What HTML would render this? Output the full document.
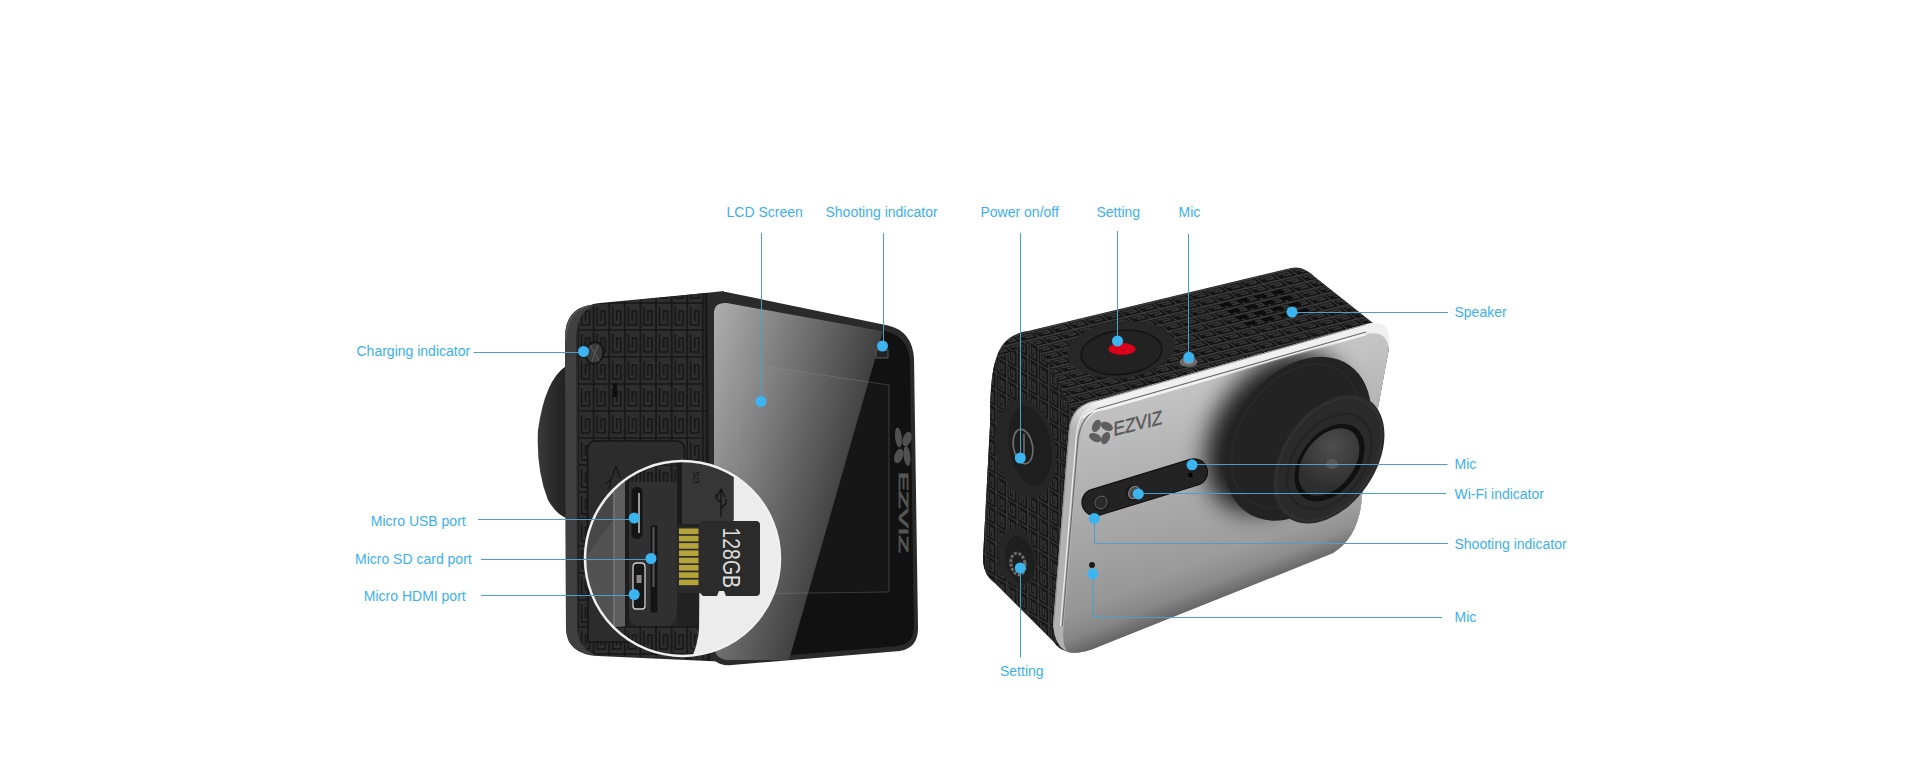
<!DOCTYPE html>
<html><head><meta charset="utf-8">
<style>
html,body{margin:0;padding:0;background:#fff;width:1920px;height:768px;overflow:hidden}
svg{display:block}
text{font-family:"Liberation Sans",sans-serif;font-size:14px;fill:#3cb0ee}
</style></head><body>
<svg width="1920" height="768" viewBox="0 0 1920 768">
<defs>
 <linearGradient id="glassL" x1="714" y1="303" x2="887.5" y2="350.9" gradientUnits="userSpaceOnUse">
  <stop offset="0" stop-color="#afafaf"/><stop offset="1" stop-color="#393939"/>
 </linearGradient>
 <linearGradient id="glassV" x1="0" y1="303" x2="0" y2="660" gradientUnits="userSpaceOnUse">
  <stop offset="0" stop-color="#fff" stop-opacity="0.12"/><stop offset="0.5" stop-color="#fff" stop-opacity="0"/><stop offset="1" stop-color="#000" stop-opacity="0.12"/>
 </linearGradient>
 <linearGradient id="glassTop" x1="0" y1="300" x2="0" y2="400" gradientUnits="userSpaceOnUse">
  <stop offset="0" stop-color="#000" stop-opacity="0.15"/><stop offset="1" stop-color="#000" stop-opacity="0"/>
 </linearGradient>
 <linearGradient id="silver" x1="1080" y1="400" x2="1136" y2="654" gradientUnits="userSpaceOnUse">
  <stop offset="0" stop-color="#c5c5c5"/><stop offset="1" stop-color="#898989"/>
 </linearGradient>
 <radialGradient id="lensShadow" cx="1300" cy="445" r="120" gradientUnits="userSpaceOnUse">
  <stop offset="0.55" stop-color="#000" stop-opacity="0.75"/><stop offset="1" stop-color="#000" stop-opacity="0"/>
 </radialGradient>
 <linearGradient id="lensL" x1="537" y1="0" x2="600" y2="0" gradientUnits="userSpaceOnUse">
  <stop offset="0" stop-color="#3a3a3a"/><stop offset="0.35" stop-color="#262626"/><stop offset="1" stop-color="#181818"/>
 </linearGradient>
 <pattern id="keyL" x="577" y="302" width="15.6" height="27" patternUnits="userSpaceOnUse">
  <rect width="15.6" height="27" fill="#2e2e2e"/>
  <path d="M1,0 V27 M0,1 H15.6 M4.5,5 V23 H12.5 V9 H8.5 V19" fill="none" stroke="#161616" stroke-width="1.7"/>
 </pattern>
 <pattern id="keyTop" width="17.7" height="8" patternUnits="userSpaceOnUse" patternTransform="translate(1030,331) rotate(-13.5) skewX(40)">
  <rect width="17.7" height="8" fill="#141414"/>
  <path d="M0,0.8 H17.7 M0.8,0 V8 M3.5,3.3 H14.5 V5.7 H7" fill="none" stroke="#3a3a3a" stroke-width="1.5"/>
 </pattern>
 <pattern id="keySide" width="10.5" height="17" patternUnits="userSpaceOnUse" patternTransform="translate(985,400) skewY(30)">
  <rect width="10.5" height="17" fill="#161616"/>
  <path d="M0.8,0 V17 M0,0.8 H10.5 M3.3,3.3 V14 H8 V5.5 H5.8 V11.5" fill="none" stroke="#363636" stroke-width="1.4"/>
 </pattern>
 <linearGradient id="bevel" x1="1095" y1="402" x2="1072" y2="430" gradientUnits="userSpaceOnUse">
  <stop offset="0" stop-color="#f0f0f0"/><stop offset="1" stop-color="#b2b2b2"/>
 </linearGradient>
 <filter id="blur12" x="-50%" y="-50%" width="200%" height="200%"><feGaussianBlur stdDeviation="12"/></filter>
 <clipPath id="silverClip"><path d="M1063.5,628 L1079,447 Q1081,414 1106,408.5 L1366,334 Q1388,330 1388.6,350 L1362,495 Q1360,536 1333,553 L1100,646 Q1080,655 1068,652 Q1062,648 1063.5,628 Z"/></clipPath>
 <radialGradient id="glassR" cx="1322" cy="448" r="42" gradientUnits="userSpaceOnUse">
  <stop offset="0" stop-color="#4e4e4e"/><stop offset="1" stop-color="#2e2e2e"/>
 </radialGradient>
 <linearGradient id="silverBot" x1="1200" y1="605.2" x2="1185.2" y2="568.1" gradientUnits="userSpaceOnUse">
  <stop offset="0" stop-color="#000" stop-opacity="0.28"/><stop offset="0.4" stop-color="#000" stop-opacity="0.08"/><stop offset="1" stop-color="#000" stop-opacity="0"/>
 </linearGradient>
 <clipPath id="mag"><circle cx="682.5" cy="558.5" r="97.5"/></clipPath>
 <clipPath id="rbody"><path d="M990,425 C990,358 997,336 1028,331 L1291,268 Q1303,265 1315,277 L1378,327 L1389,348 L1362,495 Q1360,536 1333,553 L1100,646 Q1080,655 1068,652 Q1058,649 1054,642 L995,583 Q983,575 983,558 Z"/></clipPath>
</defs>

<!-- ============ LEFT CAMERA ============ -->
<path d="M566,366 Q545,380 538,430 Q536,470 548,500 Q556,514 566,518 Z" fill="url(#lensL)"/>
<!-- side body -->
<path d="M565,338 Q565,308 592,305 L724,291 L730,662 L598,656 Q566,654 566,628 Z" fill="#2a2a2a"/>
<path d="M578,318 Q584,304 600,303 L706,293 L708,660 L598,655 Q580,652 578,628 Z" fill="url(#keyL)"/>
<path d="M565,338 Q565,309 590,305 L596,305 Q577,310 576,338 L577,628 Q578,650 598,656 Q567,653 566,628 Z" fill="#404040"/>
<path d="M566,340 Q566,312 588,306" fill="none" stroke="#555" stroke-width="1.5"/>
<path d="M706,293 L709,661" stroke="#1a1a1a" stroke-width="3"/>
<!-- door -->
<path d="M596,441 L676,441 Q684.5,441 684.5,450 L684.5,642 L588,642 L587.5,450 Q587.5,441 596,441 Z" fill="#2c2c2c" stroke="#141414" stroke-width="1.5"/>
<path d="M616,466 L611,480 L609,490 M616,466 L620,478 M612,478 L606,484" fill="none" stroke="#161616" stroke-width="1.2"/>
<ellipse cx="594.5" cy="353" rx="8.8" ry="10.8" transform="rotate(10 594.5 353)" fill="#3a3a3a" stroke="#141414" stroke-width="1.8"/>
<path d="M590,345 L599,361 M598,345 L592,361" stroke="#5a5a5a" stroke-width="1.2"/>
<rect x="613" y="383" width="4" height="14" fill="#0e0e0e"/>
<!-- face rim -->
<path d="M711,305 Q711,291 726,292 L888,325.5 Q912,331 914,358 L918,628 Q918,648 900,651 L732,665 Q711,667 711,648 Z" fill="#2a2a2a"/>
<!-- glass -->
<path d="M714,313 Q714,302 727,303 L884,331 Q909,336 910,362 L914,626 Q914,644 898,646 L734,660 Q714,662 714,645 Z" fill="#111"/>
<path d="M714,313 Q714,302 727,303 L883,331 L789,660 L734,660 Q714,662 714,645 Z" fill="url(#glassL)"/>

<path d="M736,362 L889,385 L869,380 Z" fill="none"/>
<path d="M736,362 L889,385 L889,592 L736,594 Z" fill="#fff" fill-opacity="0.025" stroke="#999" stroke-opacity="0.3" stroke-width="1"/>
<rect x="876" y="350" width="12" height="8" fill="#222" stroke="#666" stroke-width="0.8"/>
<!-- ezviz vertical logo -->
<g fill="#505050">
 <ellipse cx="898.5" cy="437.5" rx="3.4" ry="10" transform="rotate(-6 898.5 437.5)"/>
 <ellipse cx="907" cy="439" rx="4.2" ry="7.5" transform="rotate(20 907 439)"/>
 <ellipse cx="898.7" cy="456" rx="4.2" ry="7.5" transform="rotate(20 898.7 456)"/>
 <ellipse cx="907" cy="456" rx="3.4" ry="10" transform="rotate(-6 907 456)"/>
</g>
<text x="0" y="0" transform="translate(899,472) rotate(90)" textLength="81" lengthAdjust="spacingAndGlyphs" style="font-size:13px;fill:#555;stroke:#555;stroke-width:0.7">EZVIZ</text>
<!-- magnifier -->
<g clip-path="url(#mag)">
 <rect x="580" y="455" width="210" height="210" fill="#262626"/>
 <rect x="584" y="455" width="29" height="210" fill="#474747"/>
 <path d="M584,560 L613,520 L613,640 L584,640 Z" fill="#525252"/>
 <rect x="613" y="455" width="12" height="210" fill="#5e5e5e"/>
 <rect x="613" y="455" width="2" height="210" fill="#6e6e6e"/>
 <rect x="625" y="455" width="4" height="210" fill="#1c1c1c"/>
 <rect x="629" y="465" width="50" height="17" fill="url(#keyL)"/>
 <path d="M629,482 L677,482 L677,612 Q677,626 665,626 L642,626 Q629,626 629,612 Z" fill="#303030"/>
 <rect x="677" y="482" width="23" height="150" fill="#222"/>
 <path d="M629,626 L700,626 L700,665 L580,665 L580,630 Z" fill="url(#keyL)"/>
 <path d="M700,520 L790,520 L790,665 L688,665 Q697,650 699,630 Z" fill="#ececec"/>
 <path d="M733.5,455 L790,455 L790,525 L733.5,525 Z" fill="#ececec"/>
 <rect x="682" y="455" width="51.5" height="69" fill="#363636"/>
 <rect x="677" y="455" width="5" height="69" fill="#1a1a1a"/>
 <text x="0" y="0" transform="translate(693,471) rotate(90)" style="font-size:9px;fill:#111">SD</text>
 <path d="M721,489 V517 M717,497 L721,489 L725,497 M721,503 L716,498 V494 M721,509 L726,503 V499" fill="none" stroke="#111" stroke-width="1.2"/>
 <path d="M676,530 Q676,527 679,527 L700,527 L700,523 Q700,521 703,521 L756,521 Q760,521 760,525 L760,592 Q760,596 756,596 L726,596 L724,591 L719,591 L717,596 L703,596 L700,593 L679,593 Q676,593 676,590 Z" fill="#2b2b2b"/>
 <g fill="#b4a43a"><rect x="679" y="528.5" width="19.5" height="5.6"/><rect x="679" y="535.8" width="19.5" height="5.6"/><rect x="679" y="543.1" width="19.5" height="5.6"/><rect x="679" y="550.4" width="19.5" height="5.6"/><rect x="679" y="557.7" width="19.5" height="5.6"/><rect x="679" y="565" width="19.5" height="5.6"/><rect x="679" y="572.3" width="19.5" height="5.6"/><rect x="679" y="579.6" width="19.5" height="5.6"/></g>
 <rect x="631.5" y="487" width="11" height="52" rx="5" fill="#141414"/>
 <rect x="638" y="493" width="2" height="40" fill="#9a9a9a"/>
 <rect x="650.5" y="525.5" width="7" height="87" fill="#141414"/>
 <rect x="652.5" y="527" width="2" height="60" fill="#555"/>
 <path d="M633,567 Q633,563 637,563 L641,563 Q645,563 645,567 L645,606 Q645,609 642,609 L636,609 Q633,609 633,606 Z" fill="#161616" stroke="#d0d0d0" stroke-width="1.3"/>
 <rect x="636.5" y="575" width="5" height="8" fill="#888"/>
 <text x="0" y="0" transform="translate(722.5,527.5) rotate(90)" textLength="60.5" lengthAdjust="spacingAndGlyphs" style="font-size:23px;fill:#dcdcdc">128GB</text>
</g>
<circle cx="682.5" cy="558.5" r="97.5" fill="none" stroke="#f0f0f0" stroke-width="2.5"/>

<!-- ============ RIGHT CAMERA ============ -->
<g clip-path="url(#rbody)">
 <rect x="975" y="255" width="420" height="410" fill="url(#keyTop)"/>
 <path d="M975,385 Q995,352 1035,342 Q1060,380 1075,420 L1062,660 L975,660 Z" fill="url(#keySide)"/>
</g>
<!-- silver bevel -->
<path d="M1053,625 L1068.8,430 Q1071,404 1098,400 L1366,323.9 Q1392,318 1389,345 L1362,495 Q1360,536 1333,553 L1100,646 Q1080,655 1068,652 Q1055,647 1053,625 Z" fill="url(#bevel)"/>
<path d="M1063.5,628 L1079,447 Q1081,414 1106,408.5 L1366,334 Q1388,330 1388.6,350 L1362,495 Q1360,536 1333,553 L1100,646 Q1080,655 1068,652 Q1062,648 1063.5,628 Z" fill="url(#silver)"/>
<path d="M1053.5,625 L1069.3,430 Q1071.5,404.5 1098,400.5 L1366,324.4" fill="none" stroke="#8c8c8c" stroke-width="1"/>
<path d="M1060.5,626 L1075.6,445 Q1077,413 1090,409" fill="none" stroke="#ededed" stroke-width="1.2"/>
<path d="M1062.3,626 L1077.5,445 Q1079.5,412 1105,406.5 L1366,332" fill="none" stroke="#6a6a6a" stroke-width="1.1"/>
<path d="M1083,418 Q1088,410.5 1106,408.8 L1366,334.3" fill="none" stroke="#f2f2f2" stroke-width="1.8"/>
<g clip-path="url(#silverClip)">
 <ellipse cx="1276" cy="432" rx="60" ry="88" transform="rotate(35 1276 432)" fill="#000" opacity="0.85" filter="url(#blur12)"/>
</g>
<path d="M1063.5,628 L1079,447 Q1081,414 1106,408.5 L1366,334 Q1388,330 1388.6,350 L1362,495 Q1360,536 1333,553 L1100,646 Q1080,655 1068,652 Q1062,648 1063.5,628 Z" fill="url(#silverBot)"/>
<!-- ezviz logo -->
<g transform="translate(1101,432) rotate(-14)">
 <ellipse cx="-3" cy="-7" rx="4" ry="6.5" transform="rotate(40 -3 -7)" fill="#5e5e5e"/>
 <ellipse cx="3" cy="7" rx="4" ry="6.5" transform="rotate(40 3 7)" fill="#5e5e5e"/>
 <ellipse cx="-7" cy="4" rx="6.5" ry="4" transform="rotate(40 -7 4)" fill="#5e5e5e"/>
 <ellipse cx="7" cy="-4" rx="6.5" ry="4" transform="rotate(40 7 -4)" fill="#5e5e5e"/>
 <text x="13" y="7" textLength="50" lengthAdjust="spacingAndGlyphs" transform="skewX(-14)" style="font-size:19px;fill:#5a5a5a;stroke:#5a5a5a;stroke-width:0.5">EZVIZ</text>
</g>
<!-- pill -->
<rect x="1079.7" y="473.9" width="130" height="26.8" rx="13.4" transform="rotate(-17 1144.7 487.3)" fill="#232323" stroke="#111" stroke-width="1.2"/>
<ellipse cx="1101" cy="503.5" rx="8.5" ry="8" fill="#1c1c1c"/>
<ellipse cx="1101" cy="502.5" rx="6" ry="6.5" transform="rotate(30 1101 502.5)" fill="#2a2a2a" stroke="#6a6a6a" stroke-width="0.8"/>
<ellipse cx="1133" cy="493" rx="7.5" ry="8" fill="#1a1a1a"/>
<ellipse cx="1134" cy="492.5" rx="5" ry="6.5" transform="rotate(30 1134 492.5)" fill="#4a4a4a" stroke="#8a8a8a" stroke-width="1"/>
<circle cx="1190.5" cy="475" r="2.2" fill="#000"/>
<circle cx="1092" cy="565" r="3" fill="#1a1a1a"/>
<!-- speaker slots -->
<g fill="#0c0c0c" transform="translate(1268,309) rotate(-13.5) skewX(40)">
 <rect x="-34" y="-16" width="11" height="3.5"/><rect x="-16" y="-16" width="11" height="3.5"/><rect x="2" y="-16" width="11" height="3.5"/><rect x="20" y="-16" width="11" height="3.5"/>
 <rect x="-34" y="-8" width="11" height="3.5"/><rect x="-16" y="-8" width="11" height="3.5"/><rect x="2" y="-8" width="11" height="3.5"/><rect x="20" y="-8" width="11" height="3.5"/>
 <rect x="-34" y="0" width="11" height="3.5"/><rect x="-16" y="0" width="11" height="3.5"/><rect x="2" y="0" width="11" height="3.5"/><rect x="20" y="0" width="11" height="3.5"/>
 <rect x="-34" y="8" width="11" height="3.5"/><rect x="-16" y="8" width="11" height="3.5"/><rect x="2" y="8" width="11" height="3.5"/><rect x="20" y="8" width="11" height="3.5"/>
</g>
<!-- top button -->
<ellipse cx="1121" cy="349.6" rx="54" ry="28" transform="rotate(-6 1121 349.6)" fill="#272727"/>
<ellipse cx="1121.4" cy="352.4" rx="40.6" ry="22" transform="rotate(-6 1121 352)" fill="#222" stroke="#121212" stroke-width="1.5"/>
<ellipse cx="1122" cy="349" rx="13.5" ry="6" fill="#d9001b"/>
<ellipse cx="1188.6" cy="362" rx="9" ry="5" fill="#6a6a6a"/>
<ellipse cx="1188.6" cy="361" rx="5" ry="3" fill="#9a9a9a"/>
<!-- side buttons -->
<ellipse cx="1025.5" cy="448.5" rx="30" ry="50" transform="rotate(-10 1025.5 448.5)" fill="#262626"/>
<ellipse cx="1030" cy="446" rx="21" ry="40" transform="rotate(-10 1030 446)" fill="#1e1e1e"/>
<ellipse cx="1023" cy="446.5" rx="9.5" ry="17.5" transform="rotate(-10 1023 446.5)" fill="none" stroke="#6e6e6e" stroke-width="1.6"/>
<path d="M1024,434 V456" stroke="#6e6e6e" stroke-width="1.6"/>
<ellipse cx="1017" cy="558" rx="19" ry="29" transform="rotate(-10 1017 558)" fill="#262626"/>
<ellipse cx="1020" cy="560" rx="14" ry="24" transform="rotate(-10 1020 560)" fill="#1e1e1e"/>
<ellipse cx="1018" cy="564" rx="7" ry="11" transform="rotate(-10 1018 564)" fill="none" stroke="#6a6a6a" stroke-width="3" stroke-dasharray="3 1.5"/>
<!-- lens -->
<ellipse cx="1298" cy="438.7" rx="63.4" ry="89.7" transform="rotate(35 1298 438.7)" fill="#232323"/>
<ellipse cx="1295" cy="436" rx="54" ry="79" transform="rotate(35 1295 436)" fill="none" stroke="#292929" stroke-width="2"/>
<ellipse cx="1328.7" cy="459" rx="46.8" ry="71.3" transform="rotate(34.3 1328.7 459)" fill="#2a2a2a"/>
<ellipse cx="1328.7" cy="459" rx="44" ry="68" transform="rotate(34.3 1328.7 459)" fill="none" stroke="#323232" stroke-width="2"/>
<ellipse cx="1329.3" cy="461.5" rx="35" ry="53" transform="rotate(36 1329.3 461.5)" fill="none" stroke="#232323" stroke-width="2"/>
<ellipse cx="1329.6" cy="462.6" rx="29" ry="43.6" transform="rotate(37.5 1329.6 462.6)" fill="#101010"/>
<ellipse cx="1329" cy="462" rx="25" ry="38" transform="rotate(37.5 1329 462)" fill="url(#glassR)"/>
<ellipse cx="1332" cy="464" rx="6" ry="5" fill="#5c5c5c" opacity="0.8"/>

<!-- ============ CALLOUTS ============ -->
<g stroke="#4a9fcf" stroke-width="1" fill="none">
 <path d="M761.5,233 V401"/>
 <path d="M883.5,233 V346"/>
 <path d="M1020.5,233 V458"/>
 <path d="M1117.5,231 V341"/>
 <path d="M1188.5,234 V357"/>
 <path d="M1292,312.5 H1448"/>
 <path d="M1192,464.5 H1447.5"/>
 <path d="M1138,493.5 H1446"/>
 <path d="M1094.5,518 V543.5 H1448"/>
 <path d="M1093,574 V617.5 H1442"/>
 <path d="M1020.5,568 V657.5"/>
 <path d="M473.5,352.5 H583.5"/>
 <path d="M478,519.5 H634"/>
 <path d="M481,559.5 H651"/>
 <path d="M481,595.5 H634"/>
</g>
<g fill="#3cb4f0">
 <circle cx="761" cy="401.5" r="5.5"/>
 <circle cx="882.5" cy="346" r="5.5"/>
 <circle cx="1020.3" cy="458" r="5.5"/>
 <circle cx="1117.5" cy="341" r="5.5"/>
 <circle cx="1188.8" cy="357.3" r="5.5"/>
 <circle cx="1292" cy="312" r="5.5"/>
 <circle cx="1192" cy="464.8" r="5.5"/>
 <circle cx="1138.3" cy="493.9" r="5.5"/>
 <circle cx="1094.3" cy="518.4" r="5.5"/>
 <circle cx="1092.8" cy="573.8" r="5.5"/>
 <circle cx="1020.3" cy="568" r="5.5"/>
 <circle cx="583.5" cy="351.5" r="5.5"/>
 <circle cx="634.2" cy="518" r="5.5"/>
 <circle cx="651" cy="558.5" r="5.5"/>
 <circle cx="634.2" cy="594.5" r="5.5"/>
</g>
<text x="726.5" y="217">LCD Screen</text>
<text x="825.5" y="217">Shooting indicator</text>
<text x="980.5" y="217">Power on/off</text>
<text x="1096.5" y="217">Setting</text>
<text x="1178.5" y="217">Mic</text>
<text x="1454.5" y="317">Speaker</text>
<text x="1454.5" y="469">Mic</text>
<text x="1454.5" y="499">Wi-Fi indicator</text>
<text x="1454.5" y="549">Shooting indicator</text>
<text x="1454.5" y="622">Mic</text>
<text x="1000" y="675.5">Setting</text>
<text x="356.5" y="356">Charging indicator</text>
<text x="370.8" y="526">Micro USB port</text>
<text x="355" y="564">Micro SD card port</text>
<text x="363.8" y="601">Micro HDMI port</text>
</svg>
</body></html>
